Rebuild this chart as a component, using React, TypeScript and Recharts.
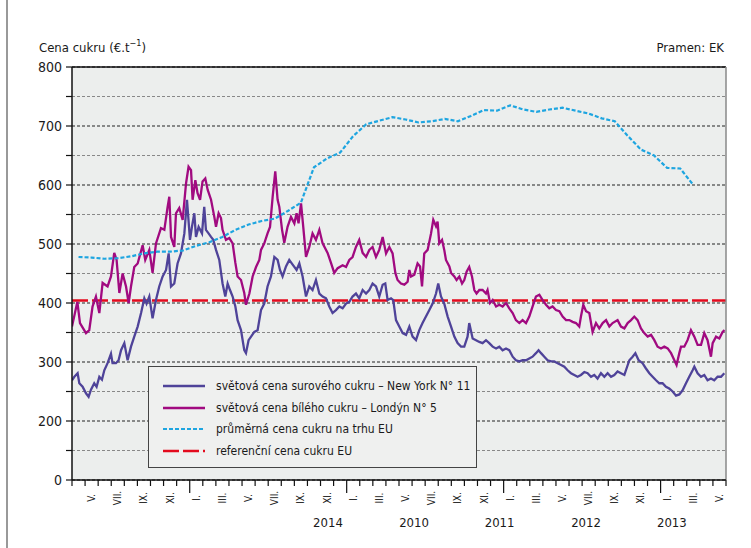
import React from "react";
import { LineChart, Line, XAxis, YAxis, CartesianGrid, ReferenceLine, Legend } from "recharts";

const FONT = "'Liberation Sans Narrow', 'Arial Narrow', 'DejaVu Sans Condensed', sans-serif";

// x axis counts months: 0 = start of April 2008, 50 = end of May 2012
const FIRST_MONTH = 3;
const MONTH_COUNT = 50;
const romanMonths = ["I.", "II.", "III.", "IV.", "V.", "VI.", "VII.", "VIII.", "IX.", "X.", "XI.", "XII."];
const yearLabels = ["2014", "2010", "2011", "2012", "2013"];
const yearLabelPos = [19.57, 26.15, 32.69, 39.3, 45.86];

// y axis is broken: the bottom (100) is labelled 0
const yTicks = [100, 150, 200, 250, 300, 350, 400, 450, 500, 550, 600, 650, 700, 750, 800];
const minorGrid = [150, 250, 350, 450, 550, 650, 750];

// [month, €/t]
const rawSugarNY: [number, number][] = [
  [0.00,269],[0.18,275],[0.43,281],[0.56,264],[0.81,258],[1.07,247],[1.27,241],[1.45,253],[1.70,264],[1.88,258],
  [2.09,275],[2.29,270],[2.47,286],[2.72,298],[2.98,314],[3.10,298],[3.36,298],[3.56,303],[3.75,320],[4.00,332],
  [4.25,303],[4.51,326],[4.76,343],[5.02,360],[5.28,383],[5.53,408],[5.70,399],[5.91,411],[6.16,374],[6.42,405],
  [6.67,428],[6.93,445],[7.19,456],[7.39,484],[7.57,428],[7.82,433],[8.07,467],[8.33,484],[8.59,518],[8.79,575],
  [9.02,507],[9.17,529],[9.35,552],[9.48,512],[9.68,529],[9.94,518],[10.11,563],[10.24,524],[10.44,518],[10.63,512],
  [10.80,507],[11.01,490],[11.26,473],[11.51,433],[11.72,411],[11.90,433],[12.08,422],[12.28,411],[12.49,394],[12.66,371],
  [12.92,354],[13.17,320],[13.30,315],[13.50,337],[13.69,343],[13.94,351],[14.19,354],[14.45,388],[14.70,399],[14.95,428],
  [15.21,445],[15.47,478],[15.72,473],[15.90,456],[16.10,445],[16.36,462],[16.61,473],[16.87,465],[17.17,456],[17.38,467],
  [17.63,445],[17.89,411],[18.14,428],[18.39,422],[18.65,439],[18.91,416],[19.16,411],[19.42,408],[19.67,394],[19.92,383],
  [20.18,388],[20.44,394],[20.69,391],[20.95,399],[21.20,402],[21.45,411],[21.71,416],[21.96,408],[22.22,422],[22.48,416],
  [22.73,422],[22.98,433],[23.24,428],[23.49,411],[23.75,431],[23.95,433],[24.13,405],[24.39,408],[24.56,405],[24.77,371],
  [25.02,360],[25.28,349],[25.54,346],[25.79,360],[26.04,343],[26.30,337],[26.55,354],[26.80,366],[27.06,377],[27.32,388],
  [27.57,399],[27.83,416],[28.00,433],[28.21,411],[28.46,399],[28.72,377],[28.98,360],[29.23,343],[29.48,332],[29.74,326],
  [29.99,326],[30.24,343],[30.37,366],[30.63,340],[30.89,337],[31.14,334],[31.39,332],[31.65,337],[31.90,332],[32.16,326],
  [32.42,323],[32.67,326],[32.92,320],[33.18,323],[33.43,320],[33.69,309],[33.94,303],[34.20,301],[34.45,303],[34.71,303],
  [34.96,306],[35.21,309],[35.47,315],[35.67,320],[35.86,315],[36.11,309],[36.36,303],[36.62,301],[36.87,301],[37.13,298],
  [37.39,295],[37.64,292],[37.89,286],[38.15,281],[38.40,278],[38.65,275],[38.91,278],[39.17,283],[39.42,281],[39.68,275],
  [39.93,278],[40.18,272],[40.44,281],[40.70,275],[40.95,281],[41.21,275],[41.46,278],[41.71,284],[41.97,281],[42.23,278],
  [42.35,286],[42.61,303],[42.86,309],[43.07,315],[43.32,303],[43.62,298],[43.88,289],[44.14,281],[44.39,275],[44.65,269],
  [44.90,264],[45.15,264],[45.41,258],[45.66,255],[45.92,250],[46.18,243],[46.43,245],[46.68,252],[46.94,264],[47.19,275],
  [47.45,286],[47.58,292],[47.83,281],[48.09,275],[48.34,278],[48.59,269],[48.85,272],[49.10,269],[49.36,275],[49.62,275],
  [49.87,281],
];

const whiteSugarLondon: [number, number][] = [
  [0.00,360],[0.41,402],[0.61,366],[1.07,349],[1.32,354],[1.57,394],[1.83,411],[2.09,383],[2.34,434],[2.72,428],
  [2.98,445],[3.23,485],[3.41,473],[3.62,417],[3.87,450],[4.13,428],[4.33,400],[4.51,428],[4.76,461],[5.02,467],
  [5.40,498],[5.60,473],[5.91,490],[6.16,451],[6.42,501],[6.80,527],[7.06,524],[7.31,563],[7.44,580],[7.57,512],
  [7.82,495],[7.95,552],[8.20,561],[8.46,541],[8.72,603],[8.91,631],[9.10,625],[9.22,575],[9.43,608],[9.60,586],
  [9.79,575],[9.98,606],[10.19,611],[10.37,592],[10.63,575],[10.88,546],[11.01,529],[11.21,552],[11.39,544],[11.51,524],
  [11.77,507],[12.03,510],[12.28,501],[12.49,468],[12.66,445],[12.92,439],[13.17,417],[13.30,397],[13.56,416],[13.81,445],
  [14.07,461],[14.32,473],[14.45,490],[14.70,501],[14.95,518],[15.14,529],[15.34,580],[15.54,623],[15.72,575],[15.85,563],
  [16.06,524],[16.23,502],[16.48,529],[16.74,546],[17.00,535],[17.17,552],[17.32,535],[17.51,569],[17.68,529],[17.89,478],
  [18.14,495],[18.39,518],[18.65,507],[18.91,524],[19.16,501],[19.54,485],[19.80,468],[20.05,451],[20.31,459],[20.69,464],
  [20.95,461],[21.20,473],[21.45,478],[21.71,495],[21.96,507],[22.22,485],[22.48,478],[22.73,490],[22.98,495],[23.24,478],
  [23.49,490],[23.75,512],[24.01,484],[24.26,495],[24.51,484],[24.72,451],[24.89,439],[25.15,433],[25.41,431],[25.66,436],
  [25.79,456],[25.92,445],[26.17,448],[26.42,467],[26.61,462],[26.76,428],[26.93,484],[27.19,490],[27.45,518],[27.62,541],
  [27.83,530],[27.95,538],[28.08,501],[28.29,507],[28.46,490],[28.59,473],[28.85,462],[28.98,451],[29.23,445],[29.40,439],
  [29.61,445],[29.82,433],[29.99,439],[30.17,453],[30.37,461],[30.58,445],[30.76,422],[30.93,416],[31.14,422],[31.39,422],
  [31.65,416],[31.77,422],[31.96,400],[32.16,405],[32.42,394],[32.67,397],[32.92,394],[33.18,400],[33.43,391],[33.69,383],
  [33.94,371],[34.20,366],[34.45,371],[34.71,366],[34.96,377],[35.21,394],[35.47,411],[35.73,414],[35.98,405],[36.24,397],
  [36.49,391],[36.74,394],[37.00,388],[37.26,386],[37.51,377],[37.77,371],[38.02,371],[38.27,368],[38.53,366],[38.78,360],
  [38.91,377],[39.09,397],[39.30,386],[39.55,383],[39.80,351],[40.06,366],[40.31,357],[40.57,366],[40.83,371],[41.08,360],
  [41.33,366],[41.71,371],[41.97,360],[42.23,357],[42.48,366],[42.74,371],[42.99,377],[43.24,371],[43.50,357],[43.75,349],
  [44.01,343],[44.27,346],[44.52,337],[44.77,326],[45.03,323],[45.28,326],[45.54,323],[45.80,315],[46.05,303],[46.22,295],
  [46.43,315],[46.56,326],[46.81,326],[47.06,337],[47.32,354],[47.58,343],[47.83,329],[48.09,329],[48.34,349],[48.59,337],
  [48.85,309],[48.98,332],[49.24,343],[49.49,340],[49.74,351],[49.89,354],
];

// monthly average EU market price, one value per month from April 2008
const euMarketPrice = [
  478, 477, 475, 476, 479, 484, 487, 487, 489, 497, 503, 512,
  524, 533, 539, 543, 556, 570, 630, 645, 655, 683, 703, 709,
  715, 711, 706, 708, 712, 708, 717, 727, 726, 735, 728, 724,
  728, 731, 726, 721, 713, 708, 683, 660, 650, 629, 628, 600,
];

const euReferencePrice = 404.4;

const VIOLET = "#4f4399";
const MAGENTA = "#a10a80";
const BLUE = "#1ea5e0";
const RED = "#e30a1d";

const nyData = rawSugarNY.map(([t, v]) => ({ t, v }));
const londonData = whiteSugarLondon.map(([t, v]) => ({ t, v }));
const euData = euMarketPrice.map((v, i) => ({ t: i + 0.5, v }));
const refData = [{ t: 0, v: euReferencePrice }, { t: MONTH_COUNT, v: euReferencePrice }];

// month boundaries (tick marks), labelled month centres, and year captions all on one axis
const monthTicks = Array.from({ length: MONTH_COUNT + 1 }, (_, i) => i);
const labelTicks = monthTicks.filter((i) => i < MONTH_COUNT && i % 2 === 1).map((i) => i + 0.5);
const xTicks = [...monthTicks, ...labelTicks, ...yearLabelPos].sort((a, b) => a - b);

const legendItems = [
  { name: "světová cena surového cukru – New York N° 11", color: VIOLET, dash: undefined, width: 2.3 },
  { name: "světová cena bílého cukru – Londýn N° 5", color: MAGENTA, dash: undefined, width: 2.3 },
  { name: "průměrná cena cukru na trhu EU", color: BLUE, dash: "4 2", width: 2.2 },
  { name: "referenční cena cukru EU", color: RED, dash: "16 4", width: 2.5 },
];

const AxisTick = (props: any) => {
  const { x, y, payload } = props;
  const v: number = payload.value;
  const yearIdx = yearLabelPos.indexOf(v);
  if (yearIdx >= 0) {
    return (
      <text x={x} y={y + 42} textAnchor="middle" dominantBaseline="central" fontSize={13} fontFamily={FONT} fill="#1a1a1a">
        {yearLabels[yearIdx]}
      </text>
    );
  }
  if (Number.isInteger(v)) {
    const isJanuary = (v + FIRST_MONTH) % 12 === 0;
    return <line x1={x} x2={x} y1={y} y2={y + (isJanuary ? 13 : 6)} stroke="#111" strokeWidth={1.2} />;
  }
  const label = romanMonths[(Math.floor(v) + FIRST_MONTH) % 12];
  const cy = y + 18;
  return (
    <text x={x} y={cy} transform={`rotate(-90, ${x}, ${cy})`} textAnchor="middle" dominantBaseline="central"
      fontSize={10} fontFamily={FONT} fill="#222">{label}</text>
  );
};

const LegendBox = () => (
  <div style={{ width: "100%", height: "100%", boxSizing: "border-box", border: "1px solid #444", background: "#eff0ef",
    padding: "8px 0 0 14px", fontFamily: FONT, fontSize: 12, color: "#1a1a1a" }}>
    {legendItems.map((item) => (
      <div key={item.name} style={{ display: "flex", alignItems: "center", height: 21.7 }}>
        <svg width={42} height={6} style={{ flex: "none" }}>
          <line x1={0} x2={42} y1={3} y2={3} stroke={item.color} strokeWidth={item.width} strokeDasharray={item.dash} />
        </svg>
        <span style={{ marginLeft: 11, whiteSpace: "nowrap" }}>{item.name}</span>
      </div>
    ))}
  </div>
);

export default function App() {
  return (
    <div style={{ position: "absolute", left: 0, top: 0, width: 751, height: 548, background: "#fff", fontFamily: FONT }}>
      <div style={{ position: "absolute", left: 6, top: 0, width: 2, height: 548, background: "#999" }} />
      <div style={{ position: "absolute", left: 39, top: 40, fontSize: 13, color: "#1a1a1a", whiteSpace: "nowrap" }}>
        Cena cukru (€.t<span style={{ fontSize: 9, position: "relative", top: -6 }}>−1</span>)
      </div>
      <div style={{ position: "absolute", right: 27, top: 40, fontSize: 13, color: "#1a1a1a" }}>Pramen: EK</div>
      <LineChart width={751} height={548} margin={{ top: 67, right: 25, left: 12, bottom: 0 }}
        style={{ position: "absolute", left: 0, top: 0 }}>
        <CartesianGrid xAxisId="m" yAxisId="main" vertical={false} fill="#eceeed" stroke="#222" strokeDasharray="3 2" />
        <CartesianGrid xAxisId="m" yAxisId="minor" vertical={false} stroke="#888" strokeDasharray="3 2" />
        <XAxis xAxisId="m" type="number" dataKey="t" domain={[0, MONTH_COUNT]} allowDataOverflow ticks={xTicks}
          interval={0} height={68} tickSize={0} tickMargin={0} tickLine={false} tick={<AxisTick />}
          axisLine={{ stroke: "#111", strokeWidth: 1.5 }} />
        <YAxis yAxisId="main" type="number" domain={[100, 800]} allowDataOverflow ticks={yTicks} interval={0} width={60}
          tickSize={6} tickMargin={4} axisLine={{ stroke: "#111", strokeWidth: 1.5 }} tickLine={{ stroke: "#111", strokeWidth: 1.2 }}
          tick={{ fontSize: 14, fill: "#1a1a1a", fontFamily: FONT }}
          tickFormatter={(v: number) => (v === 100 ? "0" : v % 100 === 0 ? String(v) : "")} />
        <YAxis yAxisId="minor" type="number" domain={[100, 800]} allowDataOverflow ticks={minorGrid} hide />
        <Line xAxisId="m" yAxisId="main" data={refData} dataKey="v" stroke={RED} strokeWidth={2.5} strokeDasharray="16 4"
          dot={false} activeDot={false} isAnimationActive={false} />
        <Line xAxisId="m" yAxisId="main" data={nyData} dataKey="v" stroke={VIOLET} strokeWidth={2.3}
          dot={false} activeDot={false} isAnimationActive={false} />
        <Line xAxisId="m" yAxisId="main" data={londonData} dataKey="v" stroke={MAGENTA} strokeWidth={2.3}
          dot={false} activeDot={false} isAnimationActive={false} />
        <Line xAxisId="m" yAxisId="main" data={euData} dataKey="v" stroke={BLUE} strokeWidth={2.2} strokeDasharray="4 2"
          dot={false} activeDot={false} isAnimationActive={false} />
        <ReferenceLine xAxisId="m" yAxisId="main" y={800} stroke="#111" strokeWidth={1.5} />
        <ReferenceLine xAxisId="m" yAxisId="main" x={MONTH_COUNT} stroke="#888" strokeWidth={1.5} />
        <Legend layout="vertical" align="center" verticalAlign="middle" content={<LegendBox />}
          wrapperStyle={{ position: "absolute", left: 148, top: 366, width: 329, height: 102 }} />
      </LineChart>
    </div>
  );
}
